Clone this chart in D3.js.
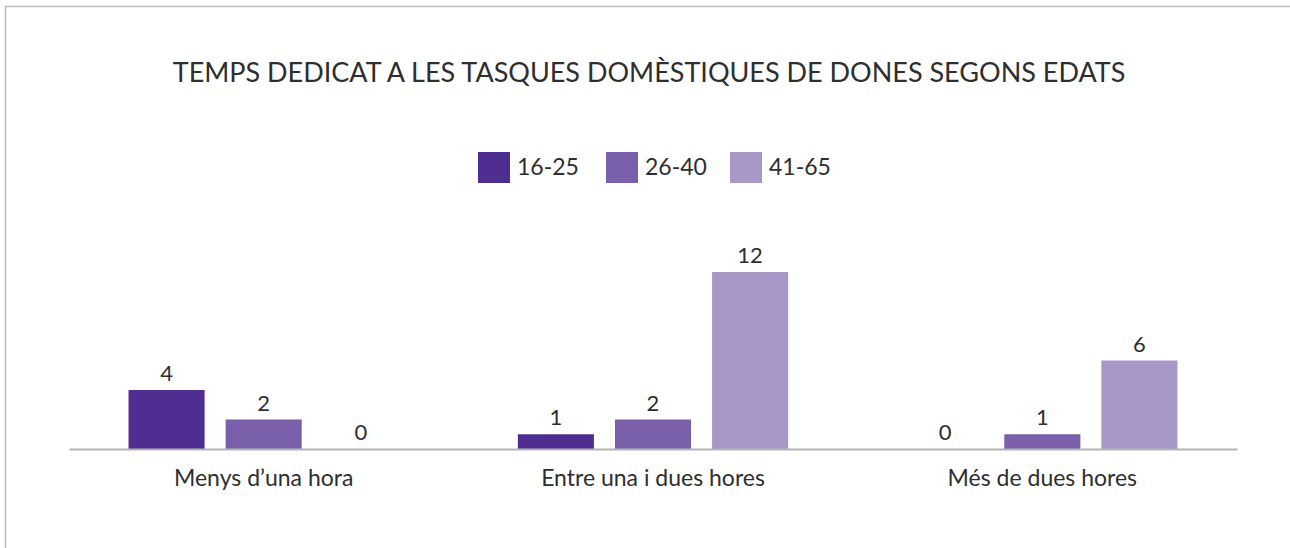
<!DOCTYPE html>
<html>
<head>
<meta charset="utf-8">
<script src="https://cdn.jsdelivr.net/npm/d3@7"></script>
<style>
    body { margin: 0; background: #fff; }
    svg { display: block; font-family: Lato, 'Open Sans', sans-serif; }
</style>
</head>
<body>
<div id="chart"></div>
<script>
'use strict';

var categories = ['Menys d\u2019una hora', 'Entre una i dues hores', 'Més de dues hores'];
var ageGroups = ['16-25', '26-40', '41-65'];
var values1625 = [4, 1, 0];
var values2640 = [2, 2, 1];
var values4165 = [0, 12, 6];
var colors = ['#4e2f91', '#7a60aa', '#a898c8'];
var title = 'TEMPS DEDICAT A LES TASQUES DOMÈSTIQUES DE DONES SEGONS EDATS';

var svgWidth = 1290, svgHeight = 548;
var axisLeft = 69, axisRight = 1237, baseY = 449;

var series = [values1625, values2640, values4165];

var svg = d3.select('#chart')
    .append('svg')
    .attr('width', svgWidth)
    .attr('height', svgHeight);

// outer frame (only top and left edges are inside the window)
svg.append('path')
    .attr('d', 'M5.5,' + svgHeight + 'V6.5H' + svgWidth)
    .attr('fill', 'none')
    .attr('stroke', '#bcbcbc')
    .attr('stroke-width', 1.5);

svg.append('text')
    .attr('x', 649)
    .attr('y', 82)
    .attr('text-anchor', 'middle')
    .attr('fill', '#2e2e2e')
    .style('font-size', '27px')
    .text(title);

var x0 = d3.scaleBand()
    .domain(categories)
    .range([axisLeft, axisRight]);

var x1 = d3.scaleBand()
    .domain(ageGroups)
    .range([0, x0.bandwidth()])
    .paddingInner(0.2165)
    .paddingOuter(0.613);

var y = d3.scaleLinear()
    .domain([0, 12])
    .range([baseY, 272]);

var rows = [];
categories.forEach(function (c, i) {
    ageGroups.forEach(function (a, j) {
        rows.push({category: c, group: a, value: series[j][i], color: colors[j]});
    });
});

var bars = svg.append('g').attr('class', 'bars');

bars.selectAll('rect')
    .data(rows)
    .enter().append('rect')
    .attr('x', function (d) { return x0(d.category) + x1(d.group); })
    .attr('y', function (d) { return y(d.value); })
    .attr('width', x1.bandwidth())
    .attr('height', function (d) { return baseY - y(d.value); })
    .attr('fill', function (d) { return d.color; });

bars.selectAll('text')
    .data(rows)
    .enter().append('text')
    .attr('x', function (d) { return x0(d.category) + x1(d.group) + x1.bandwidth() / 2; })
    .attr('y', function (d) { return y(d.value) - 9; })
    .attr('text-anchor', 'middle')
    .attr('fill', '#2e2e2e')
    .style('font-size', '22px')
    .text(function (d) { return d.value; });

var xAxis = svg.append('g')
    .attr('transform', 'translate(0,' + baseY + ')')
    .call(d3.axisBottom(x0).tickSize(0).tickPadding(21));

xAxis.select('.domain')
    .attr('stroke', '#b3b3b3')
    .attr('stroke-width', 2);

xAxis.selectAll('text')
    .attr('fill', '#2e2e2e')
    .style('font-family', 'Lato, \'Open Sans\', sans-serif')
    .style('font-size', '23px');

// legend
var legendX = [478, 606, 730];
var legend = svg.append('g')
    .selectAll('g')
    .data(ageGroups)
    .enter().append('g')
    .attr('transform', function (d, i) { return 'translate(' + legendX[i] + ',152)'; });

legend.append('rect')
    .attr('width', 32)
    .attr('height', 31)
    .attr('fill', function (d, i) { return colors[i]; });

legend.append('text')
    .attr('x', 39)
    .attr('y', 23)
    .attr('fill', '#2e2e2e')
    .style('font-size', '23px')
    .text(function (d) { return d; });
</script>
</body>
</html>
